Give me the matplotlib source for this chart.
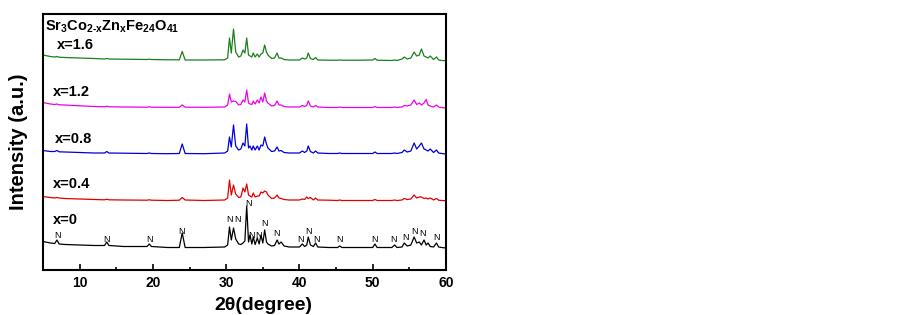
import matplotlib
matplotlib.use("Agg")
import matplotlib.pyplot as plt
import numpy as np

plt.rcParams['font.family'] = ['Liberation Sans', 'DejaVu Sans']
plt.rcParams['font.weight'] = 'bold'
plt.rcParams['mathtext.fontset'] = 'custom'
plt.rcParams['mathtext.rm'] = 'Liberation Sans:bold'
plt.rcParams['mathtext.bf'] = 'Liberation Sans:bold'

# 2theta sampling points (degree)
two_theta = [5.0, 6.0, 6.6, 6.9, 7.2, 8.0, 10.0, 12.0, 13.4, 13.7,
             14.0, 16.0, 19.2, 19.5, 19.8, 22.0, 23.6, 24.0, 24.4, 27.0,
             29.8, 30.2, 30.45, 30.7, 31.0, 31.3, 31.7, 32.0, 32.3, 32.55,
             32.8, 33.05, 33.25, 33.5, 33.7, 33.95, 34.25, 34.5, 34.75, 35.0,
             35.25, 35.5, 35.7, 36.2, 36.6, 36.95, 37.2, 37.5, 37.9, 38.6,
             40.0, 40.4, 40.7, 41.0, 41.2, 41.5, 41.9, 42.2, 42.5, 44.0,
             45.2, 45.5, 45.8, 48.0, 50.0, 50.3, 50.6, 52.6, 53.0, 53.3,
             54.0, 54.3, 54.7, 55.2, 55.65, 56.0, 56.35, 56.65, 57.0, 57.3,
             57.55, 57.85, 58.3, 58.7, 59.0, 59.4, 60.0]

# intensities (a.u.)
int_x0 = [6.5, 5, 4.5, 8, 4, 3.5, 3, 2.5, 2.5, 6,
          2.5, 1.5, 1.5, 4, 1.5, 0.5, 0.5, 15, 0.5, 0.5,
          1, 3, 21, 8, 20, 9, 4, 3.5, 5, 7,
          42, 6, 13, 4, 11, 3.5, 10, 4, 13, 5,
          18, 6, 4, 2, 2.5, 8, 4, 6, 2, 1,
          1, 4, 1.5, 3, 11, 3, 1.5, 5, 1, 0.5,
          0.5, 2, 0.5, 0.5, 0.5, 4, 0.5, 0.5, 3, 0.5,
          1, 5, 2, 3, 11, 5, 6, 3, 8, 3,
          5, 1.5, 1, 5, 1, 0.5, 0]
int_x04 = [4.5, 3.5, 3, 3.5, 3, 2.5, 2, 1.5, 1.2, 1.8,
           1.2, 1, 0.8, 1.2, 0.8, 0.5, 0.8, 3.5, 1, 0.5,
           1, 3, 21, 6, 16, 7, 3.5, 4, 13, 9,
           17, 6, 5, 4, 8, 4, 5, 5, 9, 8,
           10, 9, 6, 2.5, 3, 6, 3, 2.5, 1.5, 1,
           1, 2, 1.5, 4, 2.5, 3.5, 1, 3, 1, 0.8,
           0.5, 1, 0.5, 0.5, 0.5, 1.5, 0.5, 0.5, 1, 0.5,
           1, 2.5, 1.5, 2, 6, 3, 4, 4, 2.5, 3,
           2, 3, 1, 2.5, 0.8, 0.5, 0.3]
int_x08 = [3.5, 2.5, 2.5, 3.5, 2.2, 2, 1.5, 1, 1, 2.5,
           1, 0.8, 0.5, 1, 0.5, 0.3, 0.5, 10, 0.5, 0.3,
           1, 3, 17, 7, 29, 8, 4, 5, 11, 8,
           30, 6, 8, 4, 8, 4, 8, 4, 9, 8,
           17, 10, 6, 2.5, 3, 7, 3, 3.5, 1.5, 1,
           1, 3, 1.5, 3, 8, 2.5, 1, 3, 1, 0.5,
           0.5, 1, 0.5, 0.5, 0.5, 2, 0.5, 0.5, 1, 0.5,
           1.5, 4, 2, 3, 11, 5, 8, 11, 5, 4,
           3, 5, 1.5, 4, 1, 0.5, 0]
int_x12 = [5.5, 4, 3.5, 4, 3.2, 3, 2.2, 1.5, 1.2, 1.8,
           1.2, 1, 0.8, 1.2, 0.8, 0.7, 0.7, 3, 0.8, 0.7,
           1, 3, 14, 6, 7, 6.5, 3, 3.5, 8, 6,
           18, 5, 4, 3.5, 7, 4, 8, 5, 11, 6,
           15, 7, 5, 2, 2.5, 7, 3, 3, 1.5, 1,
           1, 2.5, 1.5, 2.5, 7, 2, 1, 2.5, 1, 0.5,
           0.5, 1, 0.5, 0.5, 0.5, 1.5, 0.5, 0.5, 1, 0.5,
           1, 2.5, 2, 3, 8, 3.5, 5, 3, 5, 8.5,
           3, 2, 1, 3, 1, 0.5, 0]
int_x16 = [6, 4.5, 4, 4.5, 3.8, 3.5, 3, 2.5, 2, 2.5,
           2, 1.8, 1.5, 1.8, 1.5, 1.2, 1.2, 9.5, 1, 1,
           1.2, 3, 23, 8, 32, 9, 4, 5, 11, 8,
           23, 6, 5, 4, 8, 4, 7, 4, 7, 8,
           16, 9, 6, 2.5, 3, 8, 3, 3, 1.5, 1,
           1, 3, 2, 3, 8, 2.5, 1.5, 3.5, 1, 0.8,
           0.8, 1, 0.8, 0.8, 1, 2.5, 0.8, 0.5, 1, 0.5,
           2, 4, 2, 3, 9, 5, 6, 12, 5, 4,
           3, 5, 1.5, 4, 1, 0.5, 0.3]

series_labels = ['x=0', 'x=0.4', 'x=0.8', 'x=1.2', 'x=1.6']
series_data = [int_x0, int_x04, int_x08, int_x12, int_x16]
series_colors = ['black', '#e00000', '#0000d8', '#ee00ee', '#1a801a']
offsets = [22, 69, 116, 162, 209]

# "N" reflections marked on the x=0 pattern
n_label_x = [6.95, 13.7, 19.5, 23.9, 30.4, 31.5, 33.05, 33.5, 34.4, 35.2, 36.8,
             40.2, 41.2, 42.3, 45.4, 50.3, 52.9, 54.5, 55.7, 56.8, 58.7]
n_label_y = [12, 9, 8, 16.3, 28, 28, 44, 12, 12, 24, 14,
             9, 16.3, 8.7, 8, 9, 8, 10.3, 16.3, 14, 10.3]

fig = plt.figure(figsize=(9.03, 3.15), dpi=100)
ax = fig.add_axes([43/903, 1-270/315, (446-43)/903, (270-14)/315])

for ys, col, off in zip(series_data, series_colors, offsets):
    ax.plot(two_theta, np.array(ys) + off, color=col, lw=0.9)

label_pos = [(6.36, 50), (6.36, 86), (6.64, 131), (6.36, 178), (6.87, 225)]
for lab, (lx, ly) in zip(series_labels, label_pos):
    ax.text(lx, ly, lab, fontsize=10.5, fontweight='bold', va='center', ha='left')

for nx, ny in zip(n_label_x, n_label_y):
    ax.text(nx, ny + offsets[0], 'N', fontsize=6.5, fontweight='normal',
            ha='center', va='center')

ax.text(5.3, 239, r'$\mathbf{Sr_3Co_{2\text{-}x}Zn_xFe_{24}O_{41}}$', fontsize=10.5,
        ha='left', va='baseline')

ax.set_xlim(5, 60)
ax.set_ylim(0, 256)
ax.set_yticks([])
ax.set_xticks([10, 20, 30, 40, 50, 60])
ax.set_xticks([15, 25, 35, 45, 55], minor=True)
ax.tick_params(axis='x', which='major', direction='in', length=4, width=1.2,
               labelsize=10, pad=4)
ax.tick_params(axis='x', which='minor', direction='in', length=2.5, width=1.2)
for lab in ax.get_xticklabels():
    lab.set_fontweight('bold')
for sp in ax.spines.values():
    sp.set_linewidth(1.5)

ax.set_xlabel('2θ(degree)', fontsize=14, fontweight='bold')
ax.xaxis.set_label_coords(0.546, -0.105)
ax.set_ylabel('Intensity (a.u.)', fontsize=14.5, fontweight='bold')
ax.yaxis.set_label_coords(-0.037, 0.5)

fig.savefig('out.png', dpi=100)
